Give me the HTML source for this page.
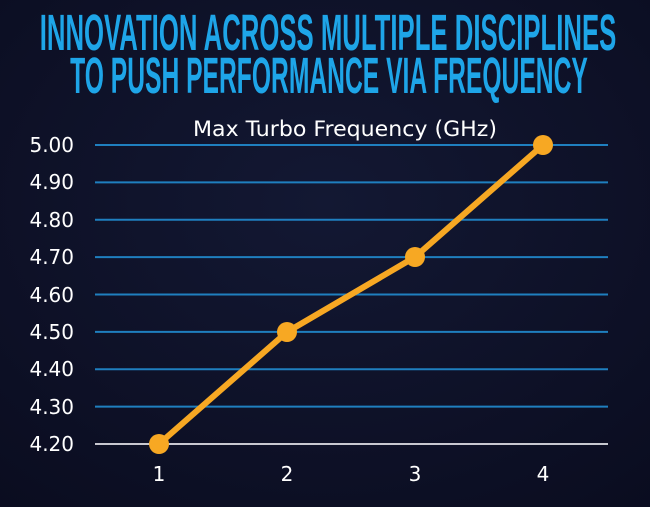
<!DOCTYPE html>
<html><head><meta charset="utf-8"><style>
html,body{margin:0;padding:0;background:#0c0f24;}
svg{display:block}
</style></head><body>
<svg width="650" height="507" viewBox="0 0 650 507" xmlns="http://www.w3.org/2000/svg">
<defs>
<radialGradient id="bg" cx="0.5" cy="0.4" r="0.8">
<stop offset="0" stop-color="#131833"/><stop offset="1" stop-color="#0a0c1f"/>
</radialGradient>
</defs>
<rect width="650" height="507" fill="url(#bg)"/>
<g font-family="Liberation Sans, sans-serif" font-weight="bold" fill="#1ea5e8" text-anchor="middle" font-size="51">
<text x="328" y="50" transform="translate(328 0) scale(0.62 1) translate(-328 0)" textLength="930" lengthAdjust="spacingAndGlyphs">INNOVATION ACROSS MULTIPLE DISCIPLINES</text>
<text x="329" y="93" transform="translate(329 0) scale(0.62 1) translate(-329 0)" textLength="835" lengthAdjust="spacingAndGlyphs">TO PUSH PERFORMANCE VIA FREQUENCY</text>
</g>
<text x="345" y="136" font-family="DejaVu Sans, sans-serif" font-size="21" fill="#fff" text-anchor="middle" textLength="304" lengthAdjust="spacingAndGlyphs">Max Turbo Frequency (GHz)</text>
<g stroke="#1f7fbf" stroke-width="2">
<line x1="95" x2="608" y1="145" y2="145"/>
<line x1="95" x2="608" y1="182.4" y2="182.4"/>
<line x1="95" x2="608" y1="219.75" y2="219.75"/>
<line x1="95" x2="608" y1="257.1" y2="257.1"/>
<line x1="95" x2="608" y1="294.5" y2="294.5"/>
<line x1="95" x2="608" y1="331.9" y2="331.9"/>
<line x1="95" x2="608" y1="369.25" y2="369.25"/>
<line x1="95" x2="608" y1="406.6" y2="406.6"/>
</g>
<line x1="95" x2="608" y1="444" y2="444" stroke="#c8c8d0" stroke-width="2"/>
<g font-family="DejaVu Sans, sans-serif" font-size="20" fill="#fff" text-anchor="end">
<text x="74" y="152">5.00</text>
<text x="74" y="189">4.90</text>
<text x="74" y="227">4.80</text>
<text x="74" y="264">4.70</text>
<text x="74" y="302">4.60</text>
<text x="74" y="339">4.50</text>
<text x="74" y="376">4.40</text>
<text x="74" y="414">4.30</text>
<text x="74" y="451">4.20</text>
</g>
<g font-family="DejaVu Sans, sans-serif" font-size="20" fill="#fff" text-anchor="middle">
<text x="159" y="481">1</text><text x="287" y="481">2</text><text x="415" y="481">3</text><text x="543" y="481">4</text>
</g>
<polyline points="159,444 287,332 415,257 543,145" fill="none" stroke="#f7a823" stroke-width="6" stroke-linejoin="round"/>
<g fill="#f7a823">
<circle cx="159" cy="444" r="10"/><circle cx="287" cy="332" r="10"/><circle cx="415" cy="257" r="10"/><circle cx="543" cy="145" r="10"/>
</g>
</svg>
</body></html>
